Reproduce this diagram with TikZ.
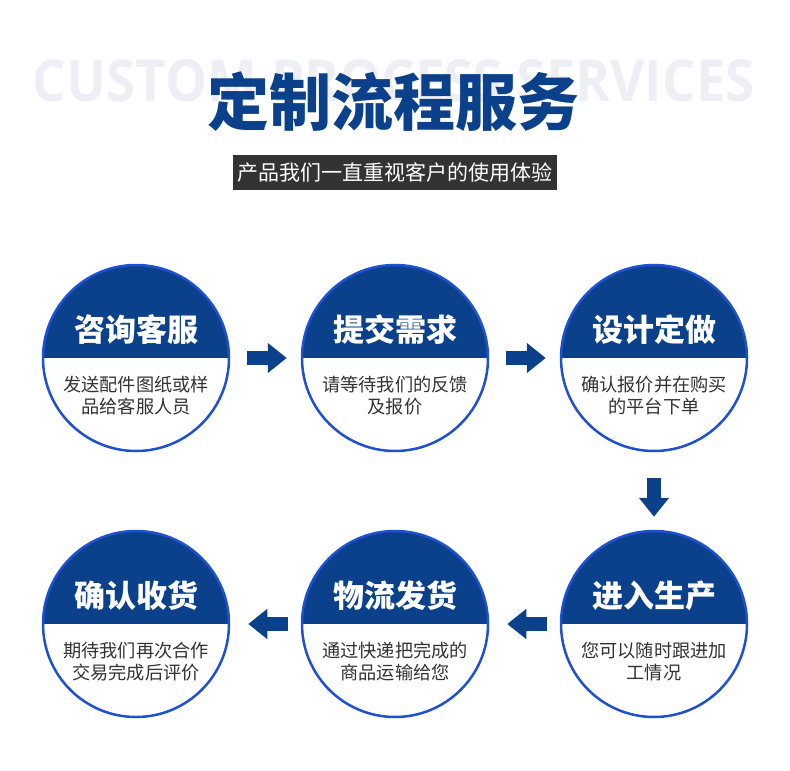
\documentclass[tikz,border=0pt]{standalone}
\usepackage{fontspec}
\usepackage{graphicx}
\usetikzlibrary{arrows.meta}
\newfontfamily\cjk{Noto Sans CJK SC}
\newfontfamily\latinbold{Open Sans}

\definecolor{navy}{HTML}{0B418A}
\definecolor{ringblue}{HTML}{1E50D2}
\definecolor{ghost}{HTML}{EDEFF5}
\definecolor{darkbar}{HTML}{333333}
\definecolor{bodytext}{HTML}{333333}

\tikzset{
  stepcircle/.style={circle, minimum size=186pt, inner sep=0pt, draw=ringblue, line width=2.5pt,
    fill=white, path picture={\fill[navy] (path picture bounding box.north west) rectangle (path picture bounding box.east);}},
  headtext/.style={text=white, font=\cjk\bfseries\fontsize{31}{31}\selectfont},
  bodytxt/.style={text=bodytext, align=center, font=\cjk\fontsize{18.2}{22}\selectfont},
  flowarrow/.style={navy, line width=14pt, -{Triangle[width=29pt,length=19pt]}}
}

\begin{document}
\begin{tikzpicture}[x=1pt, y=-1pt]
  \useasboundingbox (0,0) rectangle (790,771);

  % Title with faint background lettering
  \node[text=ghost, inner sep=0pt] (ghost) at (394,81)
    {\resizebox{722pt}{42pt}{\latinbold\bfseries CUSTOM PROCESS SERVICES}};
  \node[text=navy, inner sep=0pt, font=\cjk\bfseries\fontsize{62}{62}\selectfont] (title) at (393,102) {定制流程服务};

  % Subtitle bar
  \node[fill=darkbar, text=white, minimum width=324pt, minimum height=35pt, inner sep=0pt,
    font=\cjk\fontsize{21}{21}\selectfont] (subtitle) at (395,172.5) {产品我们一直重视客户的使用体验};

  % Six steps
  \foreach \i/\x/\y/\head/\body in {
      1/136/358/咨询客服/发送配件图纸或样\\品给客服人员,
      2/395/358/提交需求/请等待我们的反馈\\及报价,
      3/654/358/设计定做/确认报价并在购买\\的平台下单,
      4/136/624/确认收货/期待我们再次合作\\交易完成后评价,
      5/395/624/物流发货/通过快递把完成的\\商品运输给您,
      6/654/624/进入生产/您可以随时跟进加\\工情况}{
    \node[stepcircle] (c\i) at (\x,\y) {};
    \node[headtext] (h\i) at ([yshift=28pt]c\i.center) {\head};
    \node[bodytxt] (b\i) at ([yshift=-38pt]c\i.center) {\body};
  }

  % Arrows between steps
  \draw[flowarrow] ([xshift=17pt]c1.east) -- ([xshift=-14pt]c2.west);
  \draw[flowarrow] ([xshift=17pt]c2.east) -- ([xshift=-14pt]c3.west);
  \draw[flowarrow] ([yshift=-26pt]c3.south) -- ([yshift=13pt]c6.north);
  \draw[flowarrow] ([xshift=-13pt]c6.west) -- ([xshift=18pt]c5.east);
  \draw[flowarrow] ([xshift=-13pt]c5.west) -- ([xshift=18pt]c4.east);
\end{tikzpicture}
\end{document}
